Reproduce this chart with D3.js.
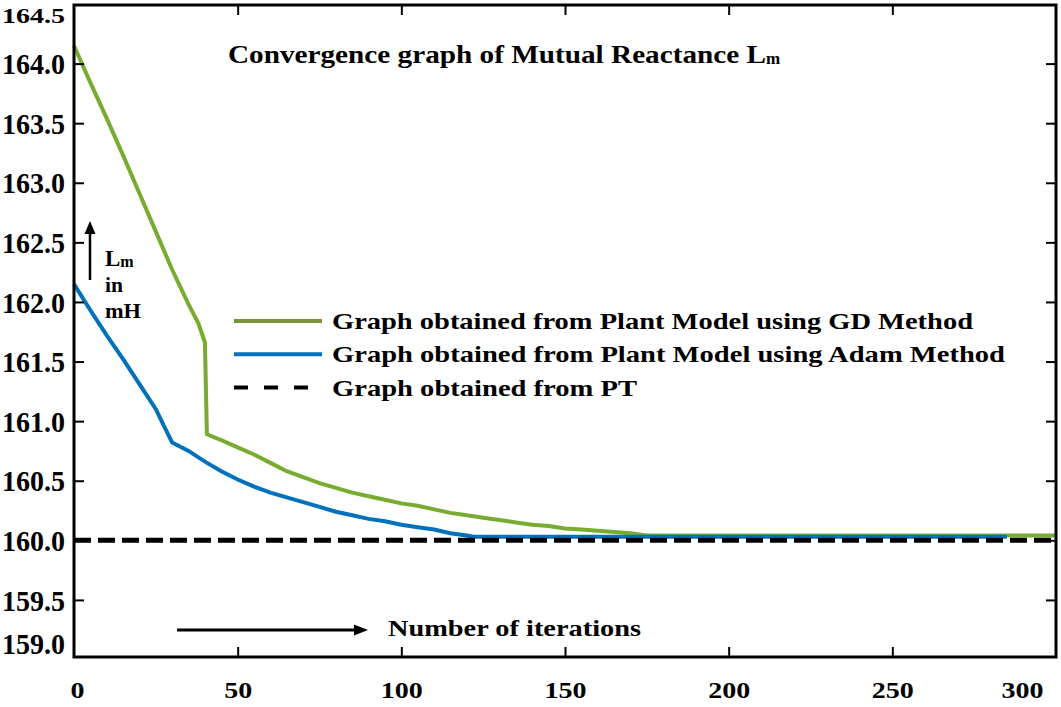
<!DOCTYPE html>
<html><head><meta charset="utf-8">
<script src="https://cdn.jsdelivr.net/npm/d3@7"></script>
<style>
body{margin:0;background:#fff}
svg text{font-family:"Liberation Serif","Times New Roman",serif;font-weight:bold;fill:#000}
</style>
</head><body>
<svg id="chart" width="1061" height="707"></svg>
<script>
// ---- data ----
const gdIter = [0,5,10,15,20,25,30,35,38,40,40.6,45,50,55,60,65,70,75,80,85,90,95,100,105,110,115,120,125,130,135,140,145,150,155,160,165,170,175,200,250,300];
const gdVal  = [164.15,163.84,163.54,163.23,162.91,162.59,162.27,161.98,161.82,161.66,160.89,160.84,160.78,160.72,160.65,160.58,160.53,160.48,160.44,160.40,160.37,160.34,160.31,160.29,160.26,160.23,160.21,160.19,160.17,160.15,160.13,160.12,160.10,160.09,160.08,160.07,160.06,160.04,160.04,160.04,160.04];
const adamIter = [0,5,10,15,20,25,28,30,35,40,45,50,55,60,65,70,75,80,85,90,95,100,105,110,115,120,122,150,200,250,285];
const adamVal  = [162.15,161.93,161.72,161.52,161.31,161.10,160.93,160.82,160.75,160.66,160.58,160.51,160.45,160.40,160.36,160.32,160.28,160.24,160.21,160.18,160.16,160.13,160.11,160.09,160.06,160.04,160.03,160.03,160.03,160.03,160.03];
const ptIter = [0,300];
const ptVal  = [160.0,160.0];
const xTickVals = [0,50,100,150,200,250,300];
const yTickVals = [159.0,159.5,160.0,160.5,161.0,161.5,162.0,162.5,163.0,163.5,164.0,164.5];
const seriesNames = ["Graph obtained from Plant Model using GD Method","Graph obtained from Plant Model using Adam Method","Graph obtained from PT"];
const titleText = "Convergence graph of Mutual Reactance L";
const titleSub = "m";
const xLabelText = "Number of iterations";

// ---- layout ----
const L=74, R=1056, T=5, B=657;
const svg = d3.select("#chart");
const x = d3.scaleLinear().domain([0,300]).range([L,R]);
const y = d3.scaleLinear().domain([159,164.5]).range([659.5,4]);

const green="#77AC30", blue="#0072BD";

const line = d3.line().x(d=>x(d[0])).y(d=>y(d[1]));
const gd = gdIter.map((v,i)=>[v,gdVal[i]]);
const adam = adamIter.map((v,i)=>[v,adamVal[i]]);
const pt = ptIter.map((v,i)=>[v,ptVal[i]]);

svg.append("path").attr("d",line(gd)).attr("fill","none").attr("stroke",green).attr("stroke-width",4);
svg.append("path").attr("d",line(adam)).attr("fill","none").attr("stroke",blue).attr("stroke-width",4);
svg.append("path").attr("d",line(pt)).attr("fill","none").attr("stroke","#000").attr("stroke-width",5).attr("stroke-dasharray","17,7");

// axes
const yAxis = d3.axisLeft(y).tickValues(yTickVals).tickFormat(d3.format(".1f")).tickSizeInner(-10).tickSizeOuter(0).tickPadding(9);
const gy = svg.append("g").attr("transform",`translate(${L},0)`).call(yAxis);
gy.select(".domain").remove();
gy.selectAll(".tick line").attr("stroke","#000").attr("stroke-width",2)
  .filter(d=>d===159||d===164.5).remove();
gy.selectAll(".tick text").attr("font-size",30).attr("textLength",63).attr("lengthAdjust","spacingAndGlyphs").attr("dy","0.34em");
gy.selectAll(".tick").filter(d=>d===164.5).select("text").attr("font-size",22).attr("transform",`translate(0,${15-y(164.5)})`);
gy.selectAll(".tick").filter(d=>d===159).select("text").attr("transform",`translate(0,${643-y(159)})`);

const yAxisR = d3.axisRight(y).tickValues(yTickVals).tickFormat("").tickSizeInner(-10).tickSizeOuter(0);
const gyr = svg.append("g").attr("transform",`translate(${R},0)`).call(yAxisR);
gyr.select(".domain").remove();
gyr.selectAll(".tick line").attr("stroke","#000").attr("stroke-width",2).filter(d=>d===159||d===164.5).remove();

const xAxis = d3.axisBottom(x).tickValues(xTickVals).tickSizeInner(-10).tickSizeOuter(0).tickPadding(24);
const gx = svg.append("g").attr("transform",`translate(0,${B})`).call(xAxis);
gx.select(".domain").remove();
gx.selectAll(".tick line").attr("stroke","#000").attr("stroke-width",2).filter(d=>d===0||d===300).remove();
gx.selectAll(".tick text").attr("font-size",24).attr("textLength",d=>14*String(d).length).attr("lengthAdjust","spacingAndGlyphs");
gx.selectAll(".tick").filter(d=>d===0).select("text").attr("dx",3);
gx.selectAll(".tick").filter(d=>d===300).select("text").attr("dx",-34);

const xAxisT = d3.axisTop(x).tickValues(xTickVals).tickFormat("").tickSizeInner(-10).tickSizeOuter(0);
const gxt = svg.append("g").attr("transform",`translate(0,${T})`).call(xAxisT);
gxt.select(".domain").remove();
gxt.selectAll(".tick line").attr("stroke","#000").attr("stroke-width",2).filter(d=>d===0||d===300).remove();

// frame
svg.append("rect").attr("x",L).attr("y",T).attr("width",R-L).attr("height",B-T).attr("fill","none").attr("stroke","#000").attr("stroke-width",3);

// title
const tt = svg.append("text").attr("x",228).attr("y",63).attr("font-size",26);
tt.append("tspan").attr("textLength",538).attr("lengthAdjust","spacingAndGlyphs").text(titleText);
tt.append("tspan").attr("font-size",17).attr("dy",1).text(titleSub);

// y label
svg.append("line").attr("x1",90).attr("y1",280).attr("x2",90).attr("y2",232).attr("stroke","#000").attr("stroke-width",2.5);
svg.append("path").attr("d","M84.5,234 L95.5,234 L90,221 Z").attr("fill","#000");
const yl = svg.append("text").attr("x",105).attr("y",266).attr("font-size",23);
yl.append("tspan").text("L");
yl.append("tspan").attr("font-size",16).attr("dy",1).text("m");
svg.append("text").attr("x",105).attr("y",292).attr("font-size",21).attr("textLength",18).attr("lengthAdjust","spacingAndGlyphs").text("in");
svg.append("text").attr("x",105).attr("y",318).attr("font-size",21).attr("textLength",36).attr("lengthAdjust","spacingAndGlyphs").text("mH");

// x label
svg.append("line").attr("x1",177).attr("y1",630).attr("x2",356).attr("y2",630).attr("stroke","#000").attr("stroke-width",3);
svg.append("path").attr("d","M354,624.5 L354,635.5 L368,630 Z").attr("fill","#000");
svg.append("text").attr("x",388).attr("y",636).attr("font-size",24).attr("textLength",253).attr("lengthAdjust","spacingAndGlyphs").text(xLabelText);

// legend
const legColors=["#77933C","#0070C0","#000"];
const legWidths=[641,673,305];
const lg = svg.append("g");
seriesNames.forEach((n,i)=>{
  const yy = 321 + i*33.3;
  lg.append("line").attr("x1",234).attr("x2",i===2?311:322).attr("y1",yy).attr("y2",yy)
    .attr("stroke",legColors[i]).attr("stroke-width",4).attr("stroke-dasharray",i===2?"14,16":null);
  lg.append("text").attr("x",332).attr("y",yy+8).attr("font-size",23).attr("textLength",legWidths[i]).attr("lengthAdjust","spacingAndGlyphs").text(n);
});
</script>
</body></html>
